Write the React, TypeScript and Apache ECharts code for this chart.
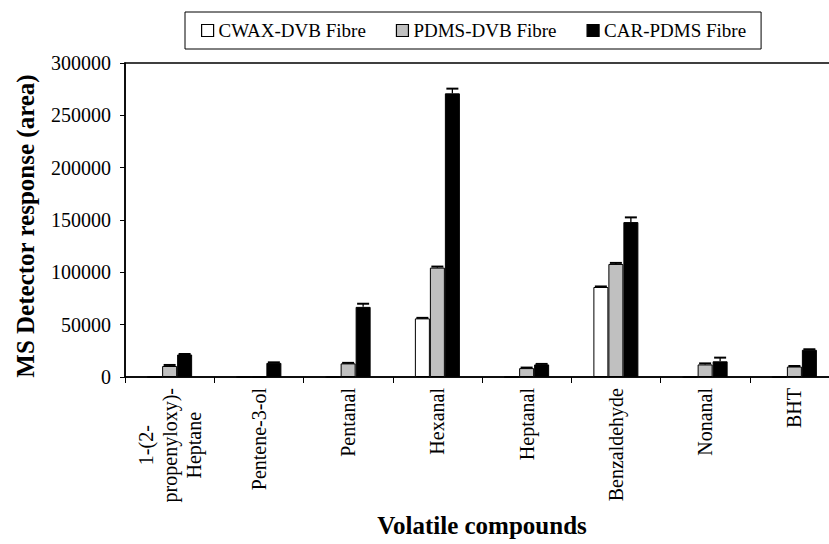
import React, { useEffect, useRef } from "react";
import * as echarts from "echarts";

const categories = [
  "1-(2-\npropenyloxy)-\nHeptane",
  "Pentene-3-ol",
  "Pentanal",
  "Hexanal",
  "Heptanal",
  "Benzaldehyde",
  "Nonanal",
  "BHT",
];
const seriesNames = ["CWAX-DVB Fibre", "PDMS-DVB Fibre", "CAR-PDMS Fibre"];
const cwaxValues = [0, 0, 0, 56000, 0, 86000, 0, 0];
const pdmsValues = [10500, 0, 13000, 104500, 8500, 108000, 12000, 10000];
const carValues = [21500, 13500, 67000, 271000, 12000, 148000, 15000, 26000];
const cwaxErrors = [0, 0, 0, 500, 0, 500, 0, 0];
const pdmsErrors = [1000, 0, 500, 1000, 500, 1000, 1000, 500];
const carErrors = [500, 500, 3000, 4500, 500, 4500, 3500, 500];
const yTicks = [0, 50000, 100000, 150000, 200000, 250000, 300000];
const yTitle = "MS Detector response (area)";
const xTitle = "Volatile compounds";

const FONT = "Liberation Serif";
const BAR_W = 15;
const colors = ["#ffffff", "#c0c0c0", "#000000"];

export default function App() {
  const ref = useRef<HTMLDivElement>(null);
  useEffect(() => {
    if (!ref.current) return;
    const chart = echarts.init(ref.current, undefined, { renderer: "svg" });
    const valueSets = [cwaxValues, pdmsValues, carValues];
    const errSets = [cwaxErrors, pdmsErrors, carErrors];
    const errData: number[][] = [];
    valueSets.forEach((vals, s) => {
      vals.forEach((v, i) => errData.push([i, v, errSets[s][i], s]));
    });
    const option: any = {
      animation: false,
      backgroundColor: "#ffffff",
      textStyle: { fontFamily: FONT, color: "#000" },
      legend: {
        data: seriesNames,
        left: 185,
        top: 12,
        orient: "horizontal",
        borderColor: "#000",
        borderWidth: 1,
        padding: [9, 15, 9, 16],
        itemGap: 30,
        itemWidth: 12,
        itemHeight: 12,
        icon: "rect",
        itemStyle: { borderColor: "#000", borderWidth: 1.2 },
        textStyle: { fontFamily: FONT, fontSize: 19, color: "#000" },
      },
      graphic: [
        {
          type: "text",
          x: 25,
          y: 226,
          rotation: Math.PI / 2,
          style: {
            text: yTitle,
            fontFamily: FONT,
            fontSize: 25,
            fontWeight: "bold",
            fill: "#000",
            align: "center",
            verticalAlign: "middle",
          },
        },
      ],
      grid: {
        left: 125,
        top: 63,
        right: -10,
        bottom: 167,
        show: true,
        borderColor: "#000",
        borderWidth: 1.5,
        containLabel: false,
        outerBoundsMode: "none",
      },
      xAxis: {
        type: "category",
        data: categories,
        name: xTitle,
        nameLocation: "middle",
        nameGap: 136,
        nameTextStyle: { fontFamily: FONT, fontSize: 25, fontWeight: "bold", color: "#000" },
        axisLine: { lineStyle: { color: "#000", width: 1.5 } },
        axisTick: { show: true, length: 6, lineStyle: { color: "#000" } },
        axisLabel: {
          rotate: 90,
          interval: 0,
          margin: 11,
          color: "#000",
          fontFamily: FONT,
          fontSize: 20,
          lineHeight: 24,
          formatter: (v: string) => v.split("\n").map((l) => `{c|${l}}`).join("\n"),
          rich: {
            c: { align: "center", fontFamily: FONT, fontSize: 20, lineHeight: 24, color: "#000" },
          },
        },
      },
      yAxis: {
        type: "value",
        min: 0,
        max: 300000,
        interval: 50000,
        axisLine: { show: true, lineStyle: { color: "#000", width: 1.5 } },
        axisTick: { show: true, length: 5, lineStyle: { color: "#000" } },
        splitLine: { show: false },
        axisLabel: {
          margin: 14,
          color: "#000",
          fontFamily: FONT,
          fontSize: 20,
          formatter: (v: number) => (yTicks.includes(v) ? String(v) : ""),
        },
      },
      series: [
        ...seriesNames.map((name, s) => ({
          name,
          type: "bar",
          data: valueSets[s],
          barWidth: BAR_W,
          barGap: "0%",
          itemStyle: { color: colors[s], borderColor: "#000", borderWidth: 1 },
        })),
        {
          type: "custom",
          name: "errors",
          data: errData,
          encode: { x: 0, y: 1 },
          z: 5,
          renderItem: (params: any, api: any) => {
            const cat = api.value(0);
            const v = api.value(1);
            const e = api.value(2);
            const s = api.value(3);
            const top = api.coord([cat, v + e]);
            const base = api.coord([cat, v]);
            const x = top[0] + (s - 1) * BAR_W;
            return {
              type: "group",
              children: [
                {
                  type: "line",
                  shape: { x1: x, y1: base[1], x2: x, y2: top[1] },
                  style: { stroke: "#000", lineWidth: 1.3 },
                },
                {
                  type: "line",
                  shape: { x1: x - 6, y1: top[1], x2: x + 6, y2: top[1] },
                  style: { stroke: "#000", lineWidth: 2 },
                },
              ],
            };
          },
        },
      ],
    };
    chart.setOption(option);
    return () => chart.dispose();
  }, []);
  return (
    <div
      ref={ref}
      style={{ position: "fixed", left: 0, top: 0, width: 829, height: 544, background: "#fff" }}
    />
  );
}
